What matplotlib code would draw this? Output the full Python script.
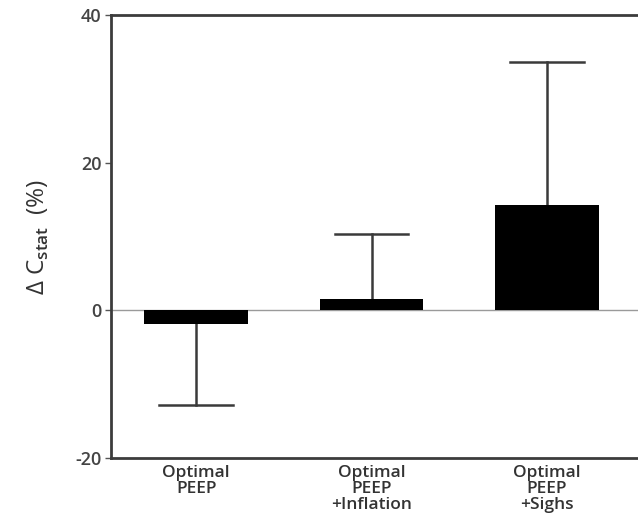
import numpy as np
import matplotlib
matplotlib.use('Agg')
import matplotlib.pyplot as plt

labels = ['Optimal\nPEEP', 'Optimal\nPEEP\n+Inflation', 'Optimal\nPEEP\n+Sighs']
means = [-1.9, 1.5, 14.2]
sd = [10.9, 8.8, 19.4]

plt.rcParams['font.family'] = ['Open Sans', 'DejaVu Sans']
plt.rcParams['font.weight'] = 'semibold'
plt.rcParams['mathtext.fontset'] = 'custom'
plt.rcParams['mathtext.rm'] = 'Open Sans:semibold'
plt.rcParams['axes.unicode_minus'] = False

fig = plt.figure(figsize=(6.38, 5.27), dpi=100)
ax = fig.add_axes([0.174, 0.131, 0.826, 0.8405])

x = np.arange(len(means))
ax.axhline(0, color='#9a9a9a', lw=1, zorder=1)
ax.bar(x, means, width=0.59, color='black', zorder=3)

# one-sided error bars (away from zero)
for xi, m, s in zip(x, means, sd):
    end = m - s if m < 0 else m + s
    ax.plot([xi, xi], [m, end], color='#3a3a3a', lw=1.8, zorder=2)
    ax.plot([xi - 0.21, xi + 0.21], [end, end], color='#3a3a3a', lw=1.8, zorder=2)

ax.set_xlim(-0.486, 2.52)
ax.set_ylim(-20, 40)
ax.set_yticks([-20, 0, 20, 40])
ax.set_xticks(x)
ax.set_xticklabels(labels, fontsize=12.5, color='#333333', linespacing=1.0)
ax.tick_params(axis='x', length=0, pad=5)
ax.tick_params(axis='y', length=4, width=1, colors='#555555', labelsize=13, pad=3)
for lbl in ax.get_yticklabels():
    lbl.set_color('#444444')

for side in ['left', 'top', 'bottom']:
    ax.spines[side].set_linewidth(2)
    ax.spines[side].set_color('#3c3c3c')
ax.spines['right'].set_visible(False)

ax.set_ylabel(r'Δ C$_{\mathrm{stat}}$  (%)', fontsize=17.5, color='#333333', labelpad=17)

fig.savefig('out.png', dpi=100)
